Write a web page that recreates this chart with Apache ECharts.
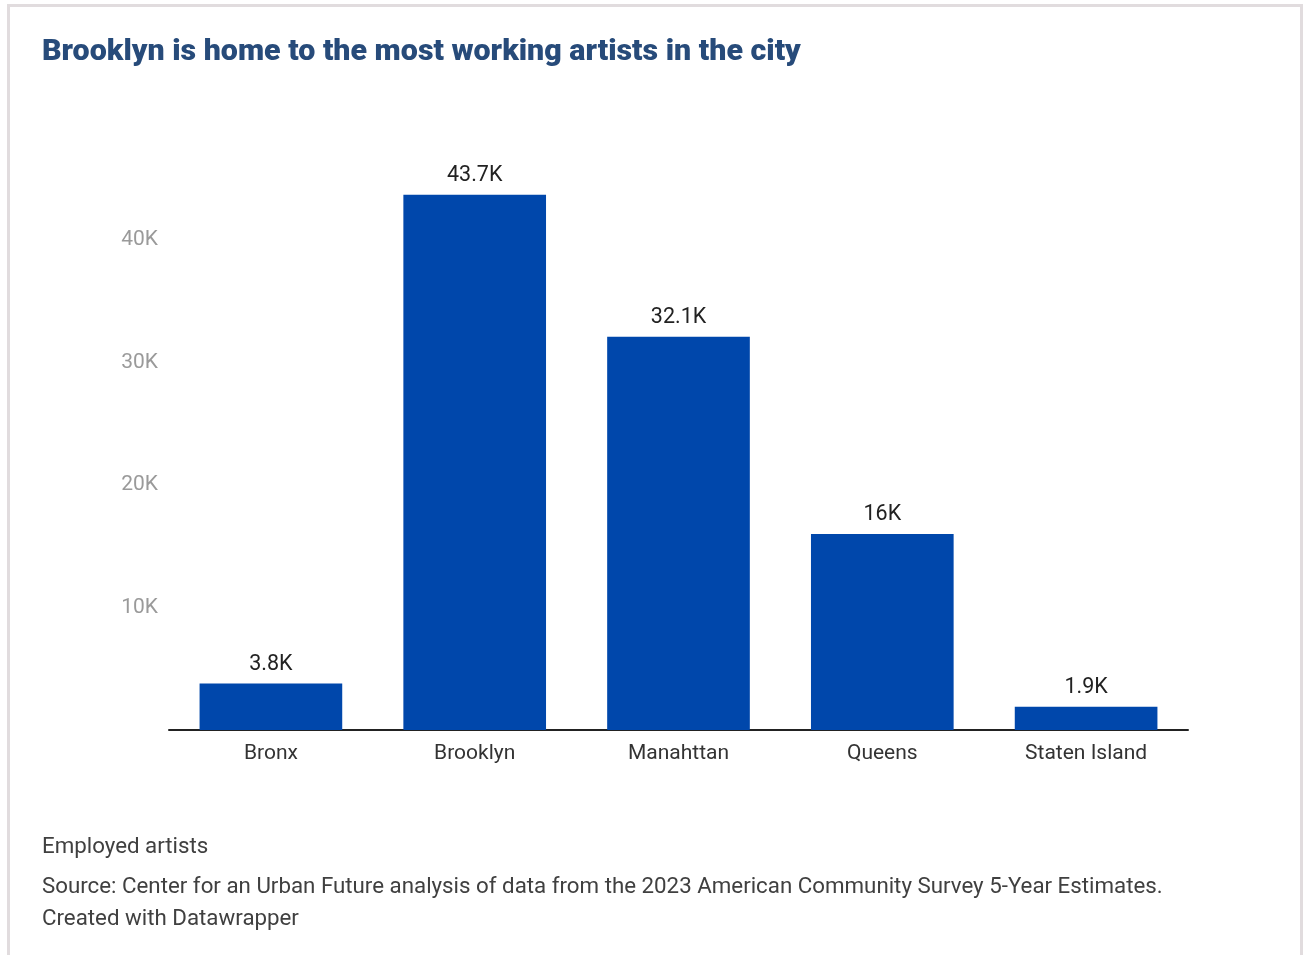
<!DOCTYPE html>
<html>
<head>
<meta charset="utf-8">
<title>Brooklyn is home to the most working artists in the city</title>
<script src="https://cdn.jsdelivr.net/npm/echarts@6/dist/echarts.min.js"></script>
<style>
  html, body { margin: 0; padding: 0; background: #ffffff; }
  #chart { position: absolute; left: 0; top: 0; width: 1306px; height: 955px; }
  #frame {
    position: absolute; left: 7px; top: 4px; width: 1290px; height: 980px;
    border: 3px solid #e1dcde; pointer-events: none;
  }
</style>
</head>
<body>
<div id="chart"></div>
<div id="frame"></div>
<script>
// Employed artists by borough
const boroughs = ['Bronx', 'Brooklyn', 'Manahttan', 'Queens', 'Staten Island'];
const artists = [3800, 43700, 32100, 16000, 1900];
const yTickValues = [10000, 20000, 30000, 40000];
const yTickLabels = ['10K', '20K', '30K', '40K'];

const FONT = 'Roboto, "Noto Sans", sans-serif';

const chart = echarts.init(document.getElementById('chart'), null, { renderer: 'canvas' });

function note(text, top) {
  return {
    text: text, left: 42, top: top, padding: 0,
    textStyle: { fontFamily: FONT, fontWeight: 'normal', fontSize: 22.3, color: '#404040' }
  };
}

chart.setOption({
  animation: false,
  backgroundColor: 'transparent',
  title: [
    {
      text: 'Brooklyn is home to the most working artists in the city',
      left: 42, top: 37, padding: 0,
      textStyle: { fontFamily: FONT, fontWeight: 900, fontSize: 30.4, color: '#274b7a' }
    },
    note('Employed artists', 836),
    note('Source: Center for an Urban Future analysis of data from the 2023 American Community Survey 5-Year Estimates.', 876),
    note('Created with Datawrapper', 908)
  ],
  grid: { left: 169, right: 118, top: 178.75, bottom: 225, containLabel: false },
  xAxis: {
    type: 'category',
    data: boroughs,
    axisLine: { show: true, lineStyle: { color: '#222222', width: 2 } },
    axisTick: { show: false },
    axisLabel: { fontFamily: FONT, fontSize: 21, color: '#333333', margin: 13 }
  },
  yAxis: {
    type: 'value',
    min: 0, max: 45000, interval: 5000,
    splitLine: { show: false },
    axisLine: { show: false },
    axisTick: { show: false },
    axisLabel: {
      fontFamily: FONT, fontSize: 21, color: '#9a9a9a', margin: 11,
      formatter: function (v) {
        const i = yTickValues.indexOf(v);
        return i >= 0 ? yTickLabels[i] : '';
      }
    }
  },
  series: [{
    type: 'bar',
    data: artists,
    barWidth: '70%',
    itemStyle: { color: '#0047ab' },
    label: {
      show: true, position: 'top', distance: 8,
      fontFamily: FONT, fontSize: 21.5, color: '#222222',
      formatter: function (p) { return (p.value / 1000) + 'K'; }
    }
  }]
});
</script>
</body>
</html>
